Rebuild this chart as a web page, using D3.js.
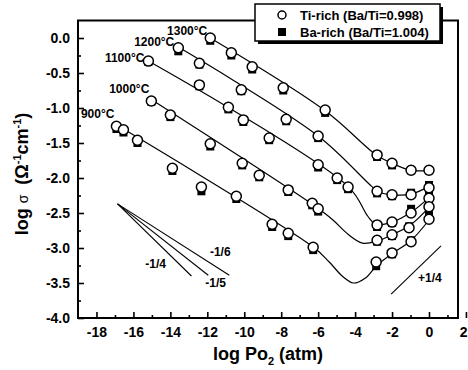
<!DOCTYPE html>
<html>
<head>
<meta charset="utf-8">
<script src="https://cdn.jsdelivr.net/npm/d3@7"></script>
<style>
    body { margin: 0; background: #fff; }
    svg { display: block; font-family: "Liberation Sans", Arial, sans-serif; font-weight: bold; }
</style>
</head>
<body>
<div id="chart"></div>
<script>
// log Po2 (atm) positions and log sigma values
const po2_1300 = [-11.84, -10.70, -9.57, -7.89, -5.62, -2.81, -2.0, -0.97, 0];
const ti_1300 = [0.0, -0.21, -0.41, -0.71, -1.03, -1.67, -1.79, -1.89, -1.89];
const ba_1300 = [-0.04, -0.25, -0.45, -0.75, -1.07, -1.70, -1.82, -1.89, -1.89];
const fit_1300 = [[-11.84, 0.0], [-5.62, -1.04], [-2.81, -1.68], [-2.0, -1.79], [-0.97, -1.89], [0, -1.89]];

const po2_1200 = [-13.57, -12.43, -10.16, -7.73, -6.0, -2.81, -2.0, -0.97, 0];
const ti_1200 = [-0.14, -0.36, -0.74, -1.16, -1.40, -2.19, -2.24, -2.24, -2.14];
const ba_1200 = [-0.19, -0.38, -0.76, -1.19, -1.43, -2.22, -2.26, -2.21, -2.10];
const fit_1200 = [[-13.57, -0.13], [-6.0, -1.40], [-3.1, -2.12], [-2.7, -2.2], [-2.0, -2.24], [-0.97, -2.23], [0, -2.12]];

const po2_1100 = [-15.19, -12.43, -10.86, -10.05, -8.65, -6.0, -4.97, -4.38, -2.81, -2.0, -0.97, 0];
const ti_1100 = [-0.33, -0.67, -0.99, -1.17, -1.43, -1.81, -2.0, -2.13, -2.67, -2.63, -2.5, -2.29];
const ba_1100 = [-0.34, -0.69, -1.02, -1.20, -1.46, -1.85, -2.03, -2.16, -2.70, -2.64, -2.44, -2.2];
const fit_1100 = [[-15.19, -0.33], [-4.38, -2.12], [-3.3, -2.55], [-2.9, -2.66], [-2.0, -2.63], [-0.97, -2.49], [0, -2.28]];

const po2_1000 = [-15.03, -14.0, -11.84, -10.11, -9.19, -7.62, -6.32, -6.0, -2.81, -2.0, -1.08, 0];
const ti_1000 = [-0.9, -1.1, -1.51, -1.79, -1.96, -2.17, -2.36, -2.44, -2.89, -2.81, -2.71, -2.41];
const ba_1000 = [-0.91, -1.13, -1.55, -1.82, -1.99, -2.2, -2.39, -2.48, -2.91, -2.83, -2.69, -2.37];
const fit_1000 = [[-15.03, -0.88], [-6.3, -2.38], [-5.2, -2.6], [-4.4, -2.8], [-3.6, -2.93], [-2.8, -2.9], [-2.0, -2.81], [-1.0, -2.67], [0, -2.42]];

const po2_900 = [-16.92, -16.54, -15.78, -13.89, -12.32, -10.43, -8.49, -7.62, -6.27, -2.86, -2.0, -0.97, 0];
const ti_900 = [-1.26, -1.31, -1.46, -1.86, -2.13, -2.26, -2.66, -2.79, -2.99, -3.2, -3.07, -2.91, -2.59];
const ba_900 = [-1.30, -1.35, -1.50, -1.90, -2.19, -2.30, -2.70, -2.83, -3.03, -3.26, -3.09, -2.89, -2.53];
const fit_900 = [[-16.92, -1.24], [-6.3, -2.98], [-5.4, -3.2], [-4.7, -3.4], [-4.1, -3.5], [-3.4, -3.42], [-2.86, -3.26], [-2.0, -3.08], [-1.0, -2.9], [0, -2.6]];

const temp_labels = ["1300°C", "1200°C", "1100°C", "1000°C", "900°C"];
const legend_labels = ["Ti-rich (Ba/Ti=0.998)", "Ba-rich (Ba/Ti=1.004)"];

// guide slopes: start point and end point in data units
const slope_labels = ["-1/4", "-1/5", "-1/6", "+1/4"];
const slope_lines = [
    [[-16.86, -2.37], [-12.86, -3.40]],
    [[-16.86, -2.37], [-11.95, -3.39]],
    [[-16.86, -2.37], [-10.81, -3.39]],
    [[-2.05, -3.66], [0.65, -2.97]]
];
const slope_label_pos = [[-14.8, -3.22], [-11.55, -3.50], [-11.3, -3.06], [0.05, -3.43]];

const x_ticks = [-18, -16, -14, -12, -10, -8, -6, -4, -2, 0, 2];
const y_ticks = [-4.0, -3.5, -3.0, -2.5, -2.0, -1.5, -1.0, -0.5, 0.0];

const series = [
    { po2: po2_1300, ti: ti_1300, ba: ba_1300, fit: fit_1300 },
    { po2: po2_1200, ti: ti_1200, ba: ba_1200, fit: fit_1200 },
    { po2: po2_1100, ti: ti_1100, ba: ba_1100, fit: fit_1100 },
    { po2: po2_1000, ti: ti_1000, ba: ba_1000, fit: fit_1000 },
    { po2: po2_900, ti: ti_900, ba: ba_900, fit: fit_900 }
];
// pixel offsets of the temperature labels from the first point
const label_offsets = [[-3, -3], [-4, -2], [-4, 1], [-2, -8], [-2, -8]];

const width = 468;
const height = 370;

const x_scale = d3.scaleLinear().domain([-19, 1.57]).range([78, 458]);
const y_scale = d3.scaleLinear().domain([-4, 0.25]).range([318, 20.5]);

const svg = d3.select("#chart").append("svg")
    .attr("width", width)
    .attr("height", height);

// axes, ticks inward
svg.append("g")
    .attr("transform", `translate(0,${y_scale(-4)})`)
    .call(d3.axisBottom(x_scale).tickValues(x_ticks).tickSize(-6).tickPadding(9).tickFormat(d => String(d)));
svg.append("g")
    .attr("transform", `translate(0,${y_scale(-4)})`)
    .call(d3.axisBottom(x_scale).tickValues(d3.range(-17, 2, 2)).tickSize(-3).tickFormat(""));
svg.append("g")
    .attr("transform", `translate(${x_scale(-19)},0)`)
    .call(d3.axisLeft(y_scale).tickValues(y_ticks).tickSize(-6).tickPadding(8).tickFormat(d => d.toFixed(1)));
svg.append("g")
    .attr("transform", `translate(${x_scale(-19)},0)`)
    .call(d3.axisLeft(y_scale).tickValues(d3.range(-3.75, 0.2, 0.5)).tickSize(-3).tickFormat(""));

svg.selectAll(".domain").remove();
svg.selectAll(".tick line").attr("stroke", "#000").attr("stroke-width", 1.6);
svg.selectAll(".tick text")
    .attr("fill", "#000")
    .style("font-size", "14px")
    .style("font-weight", "bold")
    .style("font-family", "'Liberation Sans', Arial, sans-serif");
// the last x label sits on the page edge, keep it inside
svg.selectAll(".tick text").filter(d => d === 2).attr("text-anchor", "end").attr("dx", 1);

// frame
svg.append("rect")
    .attr("x", x_scale(-19))
    .attr("y", y_scale(0.25))
    .attr("width", x_scale(1.57) - x_scale(-19))
    .attr("height", y_scale(-4) - y_scale(0.25))
    .attr("fill", "none")
    .attr("stroke", "#000")
    .attr("stroke-width", 2);

// fitted curves
const line = d3.line()
    .x(d => x_scale(d[0]))
    .y(d => y_scale(d[1]))
    .curve(d3.curveCatmullRom.alpha(0.5));

svg.append("g").selectAll("path.fit")
    .data(series)
    .join("path")
    .attr("class", "fit")
    .attr("d", d => line(d.fit))
    .attr("fill", "none")
    .attr("stroke", "#000")
    .attr("stroke-width", 1.2);

// Ba-rich squares under Ti-rich circles
const sq = 8;
series.forEach(s => {
    svg.append("g").selectAll("rect")
        .data(s.po2.map((p, i) => [p, s.ba[i]]))
        .join("rect")
        .attr("x", d => x_scale(d[0]) - sq / 2)
        .attr("y", d => y_scale(d[1]) - sq / 2)
        .attr("width", sq)
        .attr("height", sq)
        .attr("fill", "#000");
});
series.forEach(s => {
    svg.append("g").selectAll("circle")
        .data(s.po2.map((p, i) => [p, s.ti[i]]))
        .join("circle")
        .attr("cx", d => x_scale(d[0]))
        .attr("cy", d => y_scale(d[1]))
        .attr("r", 5)
        .attr("fill", "#fff")
        .attr("stroke", "#000")
        .attr("stroke-width", 1.5);
});

// temperature labels
svg.append("g").selectAll("text")
    .data(series)
    .join("text")
    .attr("x", (d, i) => x_scale(d.po2[0]) + label_offsets[i][0])
    .attr("y", (d, i) => y_scale(d.ti[0]) + label_offsets[i][1])
    .attr("text-anchor", "end")
    .style("font-size", "12px")
    .text((d, i) => temp_labels[i]);

// slope guides
svg.append("g").selectAll("path")
    .data(slope_lines)
    .join("path")
    .attr("d", d => d3.line().x(p => x_scale(p[0])).y(p => y_scale(p[1]))(d))
    .attr("stroke", "#000")
    .attr("stroke-width", 1.1);
svg.append("g").selectAll("text")
    .data(slope_label_pos)
    .join("text")
    .attr("x", d => x_scale(d[0]))
    .attr("y", d => y_scale(d[1]))
    .attr("text-anchor", "middle")
    .attr("dy", "0.35em")
    .style("font-size", "12px")
    .text((d, i) => slope_labels[i]);

// legend with drop shadow
const legend = svg.append("g");
legend.append("rect")
    .attr("x", 258).attr("y", 7)
    .attr("width", 185).attr("height", 37)
    .attr("fill", "#000");
legend.append("rect")
    .attr("x", 255).attr("y", 4)
    .attr("width", 185).attr("height", 37)
    .attr("fill", "#fff")
    .attr("stroke", "#000")
    .attr("stroke-width", 1.5);
legend.append("circle")
    .attr("cx", 282).attr("cy", 15).attr("r", 4)
    .attr("fill", "#fff").attr("stroke", "#000").attr("stroke-width", 1.5);
legend.append("rect")
    .attr("x", 278).attr("y", 28).attr("width", 8).attr("height", 8)
    .attr("fill", "#000");
legend.selectAll("text.lg")
    .data(legend_labels)
    .join("text")
    .attr("class", "lg")
    .attr("x", 300)
    .attr("y", (d, i) => 19.5 + i * 17.5)
    .style("font-size", "13px")
    .text(d => d);

// axis titles
const x_title = svg.append("text")
    .attr("x", 268)
    .attr("y", 360)
    .attr("text-anchor", "middle")
    .style("font-size", "18px");
x_title.append("tspan").text("log Po");
x_title.append("tspan").attr("dy", 5).style("font-size", "11px").text("2");
x_title.append("tspan").attr("dy", -5).text(" (atm)");

const y_title = svg.append("text")
    .attr("transform", "translate(28,174) rotate(-90)")
    .attr("text-anchor", "middle")
    .style("font-size", "18px");
y_title.append("tspan").text("log ");
y_title.append("tspan").style("font-size", "14px").style("font-weight", "normal").text("σ");
y_title.append("tspan").text("\u00a0\u00a0(Ω");
y_title.append("tspan").attr("dy", -7).style("font-size", "11px").text("-1");
y_title.append("tspan").attr("dy", 7).text("cm");
y_title.append("tspan").attr("dy", -7).style("font-size", "11px").text("-1");
y_title.append("tspan").attr("dy", 7).text(")");
</script>
</body>
</html>
